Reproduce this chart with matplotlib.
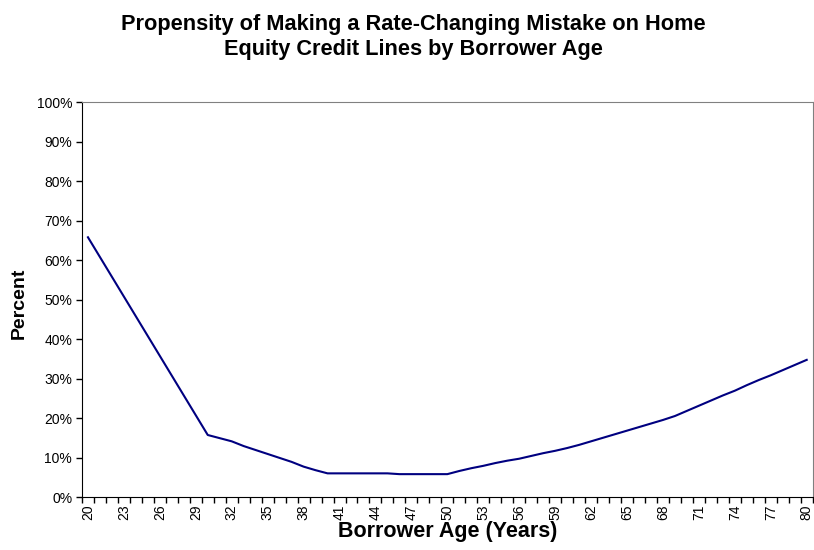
import numpy as np
import matplotlib
matplotlib.use("Agg")
import matplotlib.pyplot as plt

plt.rcParams['font.family'] = ['Liberation Sans', 'DejaVu Sans']

# Borrower age and propensity (%)
ages = list(range(20, 81))
percent = [65.8, 60.8, 55.8, 50.8, 45.8, 40.8, 35.8, 30.8, 25.8, 20.8,
           15.8, 15.0, 14.2, 13.0, 12.0, 11.0, 10.0, 9.0, 7.8, 6.9,
           6.1, 6.1, 6.1, 6.1, 6.1, 6.1, 5.9, 5.9, 5.9, 5.9,
           5.9, 6.7, 7.4, 8.0, 8.7, 9.3, 9.8, 10.5, 11.2, 11.8,
           12.5, 13.3, 14.2, 15.1, 16.0, 16.9, 17.8, 18.7, 19.6, 20.6,
           21.9, 23.2, 24.5, 25.8, 27.0, 28.4, 29.7, 30.9, 32.2, 33.5,
           34.8]
yticks = list(range(0, 101, 10))

fig = plt.figure(figsize=(8.14, 5.5), dpi=100)
ax = fig.add_axes([0.1007, 0.0955, 0.8977, 0.719])

x = np.arange(len(ages))
ax.plot(x, percent, color="#000080", linewidth=1.5)

ax.set_xlim(-0.5, len(ages) - 0.5)
ax.set_ylim(0, 100)

# category labels every 3rd age, tick marks between categories
ax.set_xticks(x[::3])
ax.set_xticklabels([str(a) for a in ages[::3]], rotation=90, fontsize=10)
ax.tick_params(axis="x", which="major", length=0, pad=5)
ax.set_xticks(np.arange(-0.5, len(ages), 1), minor=True)
ax.tick_params(axis="x", which="minor", length=4, width=1, direction="out")

ax.set_yticks(yticks)
ax.set_yticklabels([f"{v}%" for v in yticks], fontsize=10)
ax.tick_params(axis="y", length=4, width=1, direction="out", pad=3)

for s in ["top", "right"]:
    ax.spines[s].set_color("#808080")
for s in ["left", "bottom"]:
    ax.spines[s].set_color("black")

ax.set_xlabel("Borrower Age (Years)", fontsize=15.5, fontweight="bold", labelpad=1)
ax.set_ylabel("Percent", fontsize=14, fontweight="bold")
ax.yaxis.set_label_coords(-0.074, 0.49)

fig.text(0.508, 0.974, "Propensity of Making a Rate-Changing Mistake on Home\nEquity Credit Lines by Borrower Age",
         ha="center", va="top", fontsize=15.7, fontweight="bold", linespacing=1.25)

fig.savefig("out.png", dpi=100)
